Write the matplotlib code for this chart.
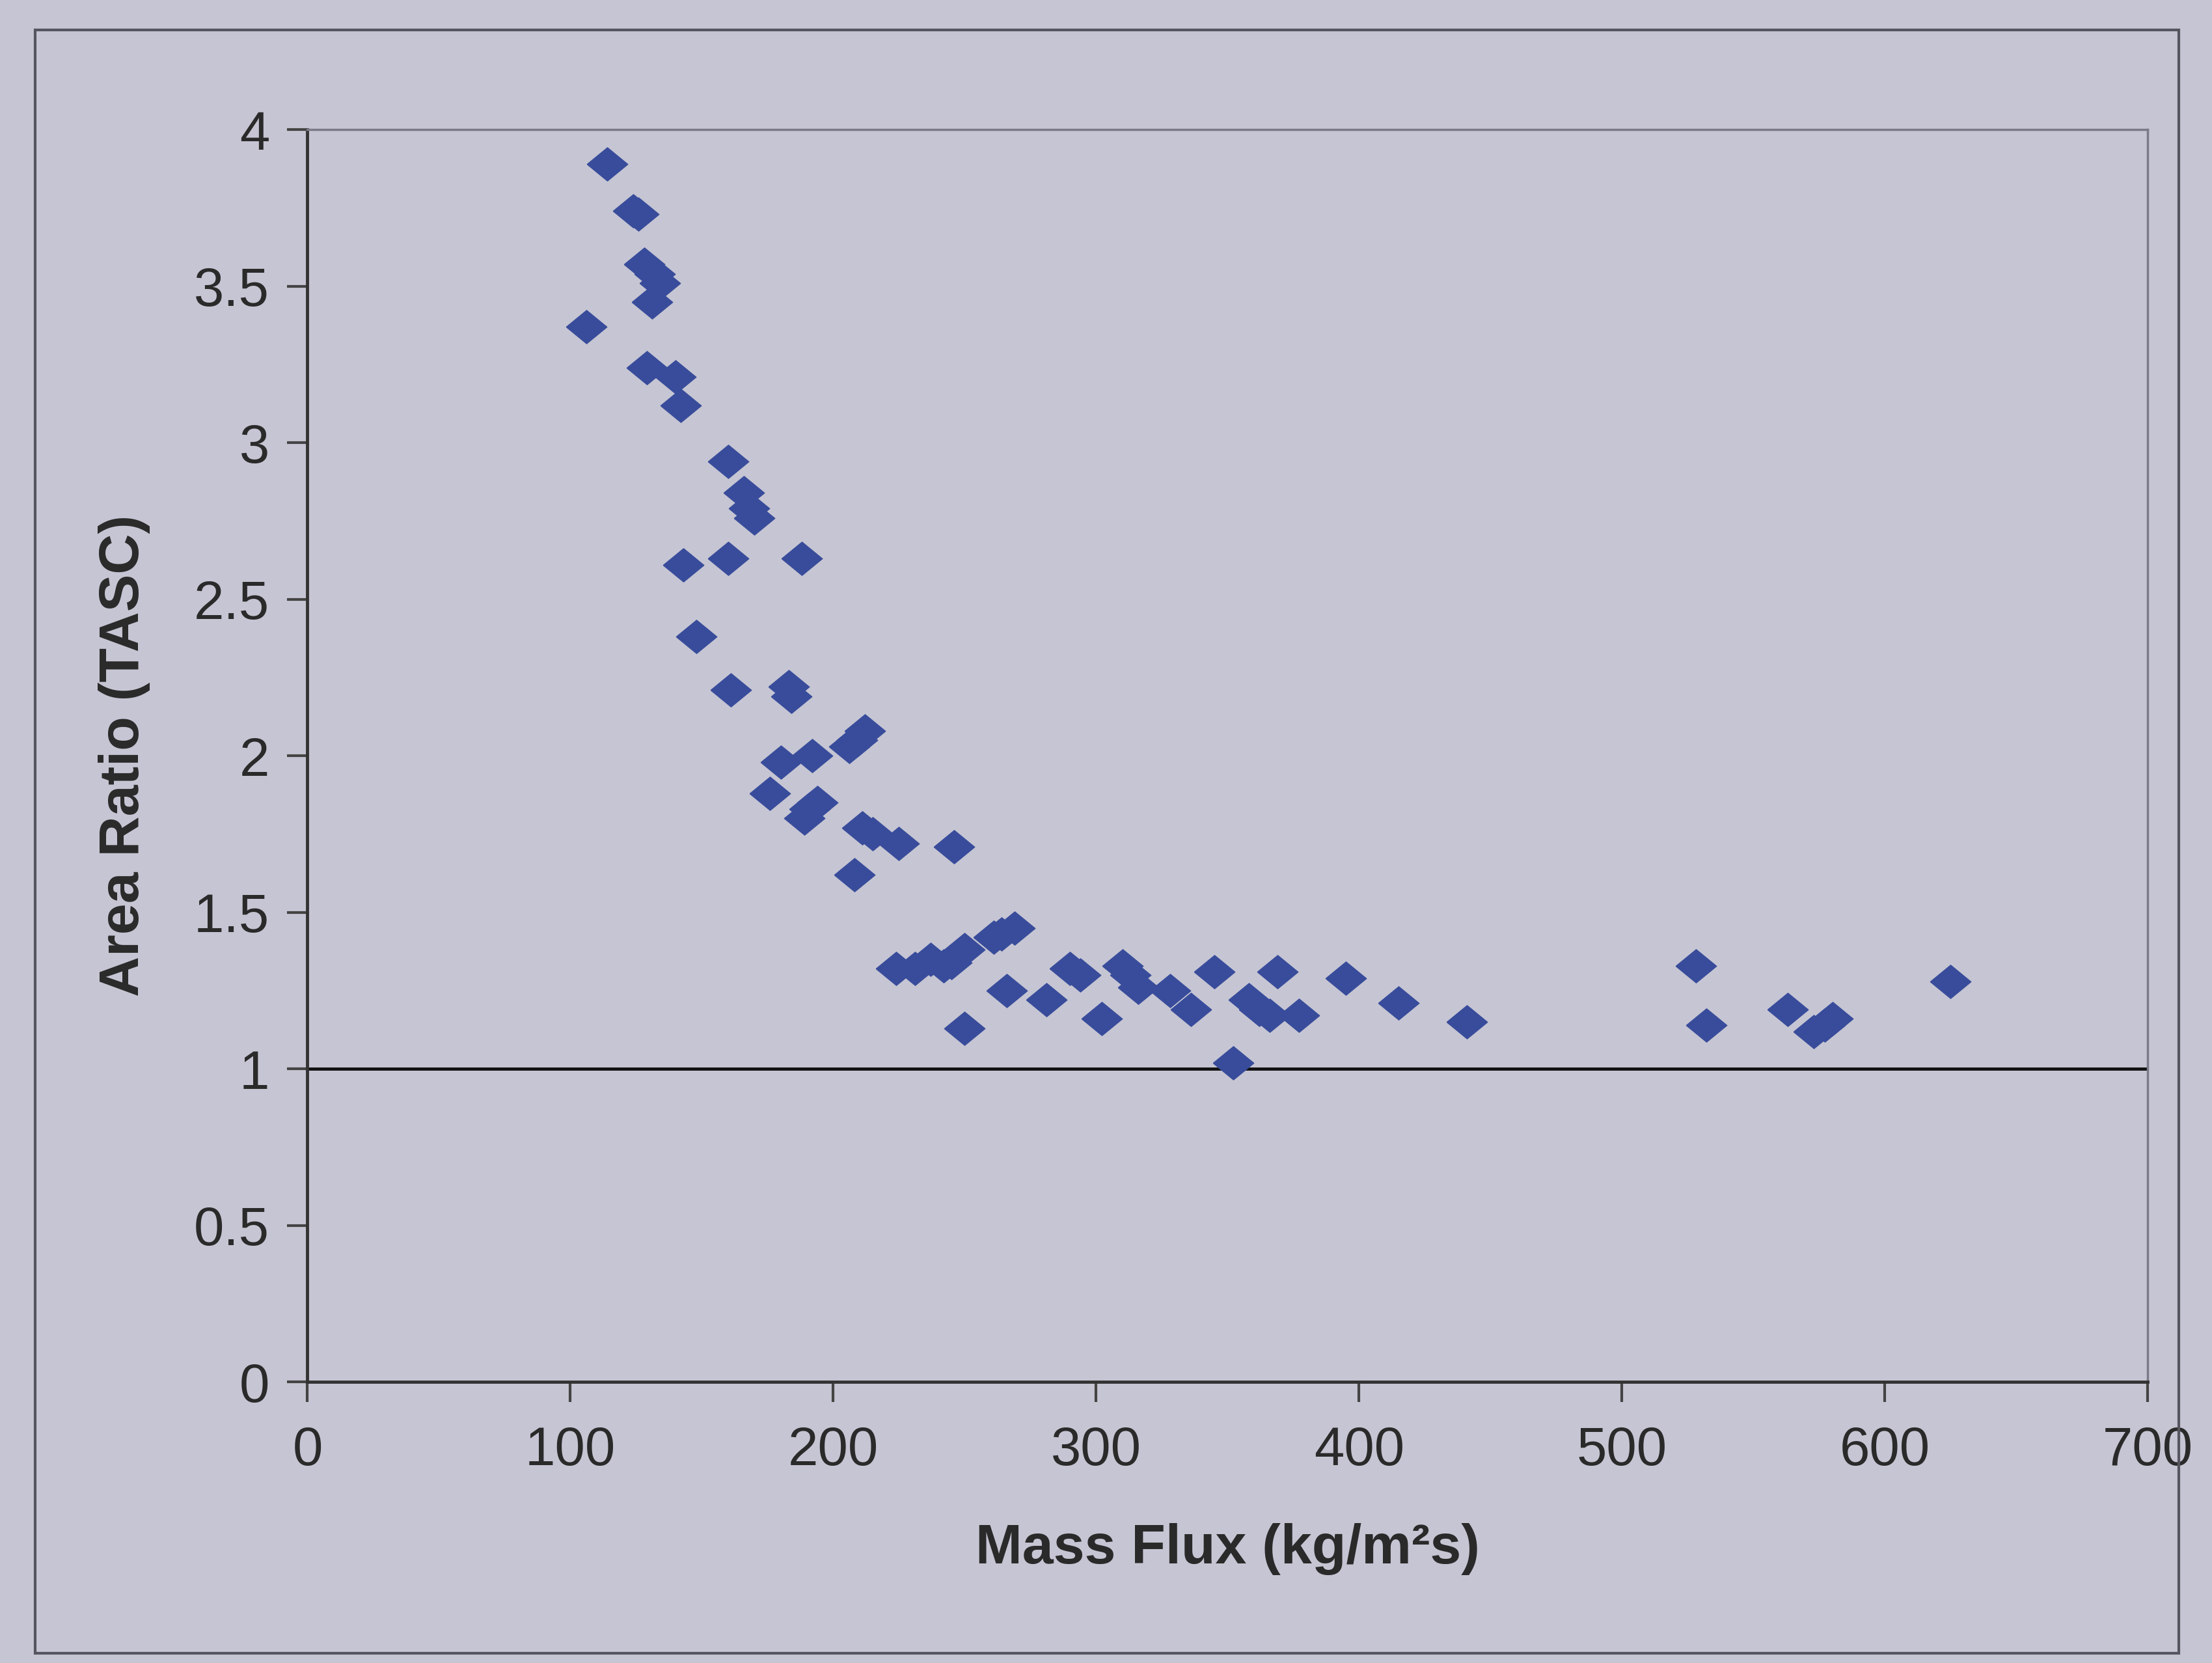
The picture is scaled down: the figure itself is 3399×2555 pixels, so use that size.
import matplotlib
matplotlib.use("Agg")
import matplotlib.pyplot as plt
from matplotlib.patches import Rectangle

# Mass flux (kg/m^2 s) and measured area ratio (TASC)
mass_flux = [106, 114, 124, 126, 128, 132, 134, 131, 129, 140, 142, 143, 148,
             160, 166, 168, 170, 160, 188, 161, 183, 184, 180, 176, 192, 206,
             209, 212, 189, 191, 194, 211, 215, 208, 225, 246, 224, 231, 237,
             242, 245, 250, 261, 264, 269, 250, 266, 281, 290, 294, 302, 310,
             313, 316, 328, 336, 345, 352, 358, 362, 366, 369, 377, 395, 415,
             441, 528, 532, 563, 573, 577, 580, 625]
area_ratio = [3.37, 3.89, 3.74, 3.73, 3.57, 3.54, 3.51, 3.45, 3.24, 3.21, 3.12,
              2.61, 2.38, 2.94, 2.84, 2.79, 2.76, 2.63, 2.63, 2.21, 2.22, 2.19,
              1.98, 1.88, 2.00, 2.03, 2.05, 2.08, 1.80, 1.83, 1.85, 1.77, 1.75,
              1.62, 1.72, 1.71, 1.32, 1.32, 1.35, 1.33, 1.34, 1.38, 1.42, 1.43,
              1.45, 1.13, 1.25, 1.22, 1.32, 1.30, 1.16, 1.33, 1.30, 1.26, 1.25,
              1.19, 1.31, 1.02, 1.22, 1.19, 1.17, 1.31, 1.17, 1.29, 1.21, 1.15,
              1.33, 1.14, 1.19, 1.12, 1.14, 1.16, 1.28]

reference_ratio = 1.0
x_ticks = [0, 100, 200, 300, 400, 500, 600, 700]
y_ticks = [0, 0.5, 1, 1.5, 2, 2.5, 3, 3.5, 4]
y_tick_labels = ["0", "0.5", "1", "1.5", "2", "2.5", "3", "3.5", "4"]

bg = "#c6c5d3"
marker_color = "#384c9b"

plt.rcParams["font.family"] = ["Liberation Sans", "DejaVu Sans"]

fig = plt.figure(figsize=(33.99, 25.55), dpi=100, facecolor=bg)
ax = fig.add_axes([0.139, 0.169, 0.832, 0.753], facecolor=bg)

# Chart-area border
fig.patches.append(Rectangle((0.016, 0.006), 0.969, 0.976, transform=fig.transFigure,
                             fill=False, edgecolor="#55555f", linewidth=3))

# Unity reference line
ax.axhline(reference_ratio, color="#111111", linewidth=3.5, zorder=2)

diamond = [(-1, 0), (0, 0.82), (1, 0), (0, -0.82), (-1, 0)]
ax.plot(mass_flux, area_ratio, linestyle="none", marker=diamond, markersize=45,
        markerfacecolor=marker_color, markeredgecolor=marker_color, zorder=3)

ax.set_xlim(0, 700)
ax.set_ylim(0, 4)
ax.set_xticks(x_ticks)
ax.set_xticklabels([str(v) for v in x_ticks])
ax.set_yticks(y_ticks)
ax.set_yticklabels(y_tick_labels)

for side in ["top", "right"]:
    ax.spines[side].set_color("#7a7a88")
    ax.spines[side].set_linewidth(2.5)
for side in ["left", "bottom"]:
    ax.spines[side].set_color("#333333")
    ax.spines[side].set_linewidth(3.5)

ax.tick_params(axis="both", direction="out", length=22, width=3, color="#444444",
               labelsize=60, labelcolor="#2a2a2a")
ax.tick_params(axis="x", pad=26)
ax.tick_params(axis="y", pad=20)

ax.set_xlabel("Mass Flux (kg/m²s)", fontsize=62, fontweight="bold", color="#2a2a2a",
              labelpad=52)
ax.set_ylabel("Area Ratio (TASC)", fontsize=62, fontweight="bold", color="#2a2a2a",
              labelpad=48)

fig.savefig("out.png", dpi=100, facecolor=bg)
